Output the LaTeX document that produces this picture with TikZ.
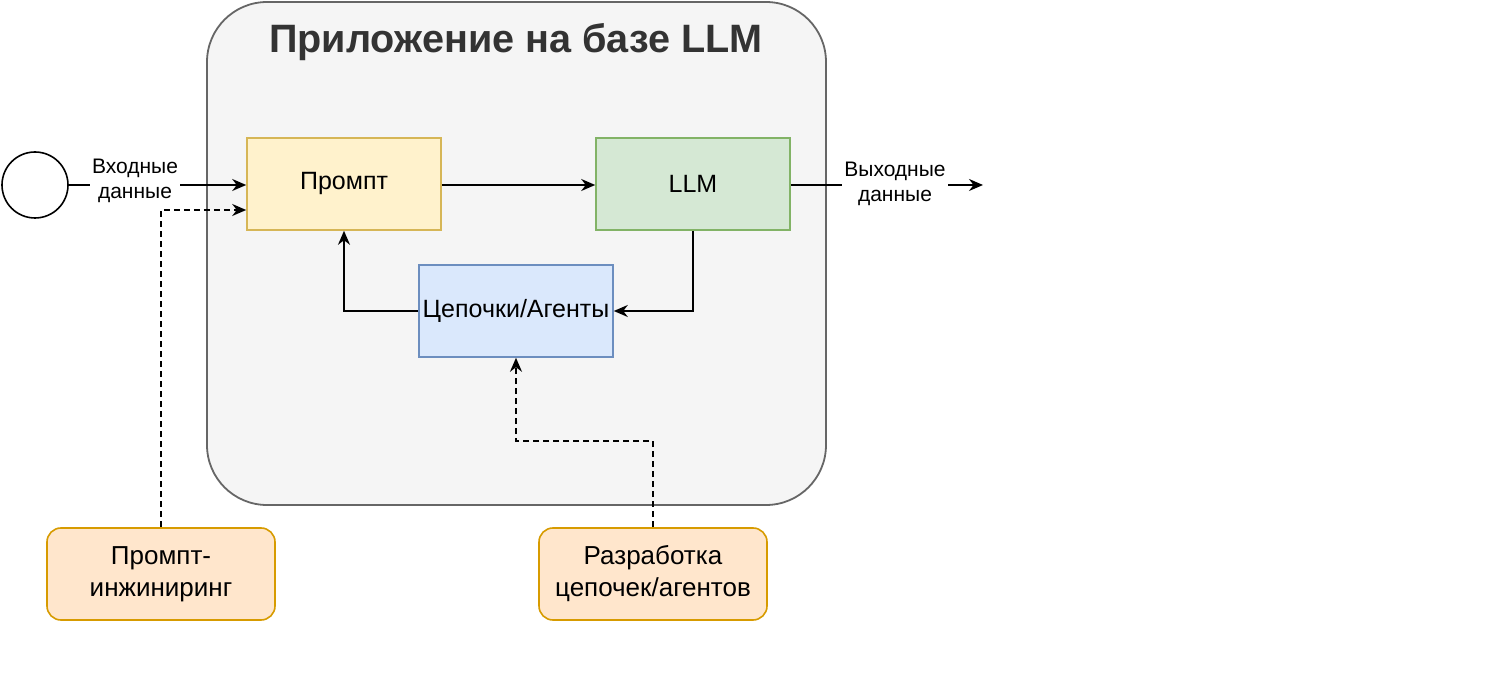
\documentclass[tikz,border=0pt]{standalone}
\usepackage{fontspec}
\setmainfont{Liberation Sans}
\usetikzlibrary{arrows.meta}
\definecolor{bg}{HTML}{F5F5F5}
\definecolor{yf}{HTML}{FFF2CC}\definecolor{yd}{HTML}{D6B656}
\definecolor{gf}{HTML}{D5E8D4}\definecolor{gd}{HTML}{82B366}
\definecolor{bf}{HTML}{DAE8FC}\definecolor{bd}{HTML}{6C8EBF}
\definecolor{of}{HTML}{FFE6CC}\definecolor{od}{HTML}{D79B00}
\tikzset{
 x=0.5pt,y=-0.5pt,
 box/.style={draw=#1,line width=0.8pt,minimum width=97pt,minimum height=46pt,inner sep=0pt,font=\fontsize{12.5}{15}\selectfont,align=center},
 ext/.style={draw=od,line width=0.8pt,rounded corners=7pt,fill=of,minimum width=114pt,minimum height=46pt,inner sep=0pt,font=\fontsize{13}{16}\selectfont,align=center},
 lab/.style={font=\fontsize{10.5}{12.5}\selectfont,align=center,fill=white,inner sep=1pt},
 arr/.style={-{Stealth[length=7pt,width=6pt]},line width=0.8pt},
 dsh/.style={arr,dashed,dash pattern=on 3pt off 2pt}
}
\begin{document}
\begin{tikzpicture}
\useasboundingbox (0,0) rectangle (1504,688);
\draw[fill=bg,draw=black!60,line width=0.9pt,rounded corners=30pt] (207,2) rectangle (826,505);
\node[font=\bfseries\fontsize{19.8}{22}\selectfont,text=black!80] at (516,42) {Приложение на базе LLM};
\node[draw,circle,minimum size=33pt,line width=0.8pt,inner sep=0pt] (c) at (35,185) {};
\node[box=yd,fill=yf] (p) at (344,184) {Промпт};
\node[box=gd,fill=gf] (l) at (693,184) {LLM};
\node[box=bd,fill=bf] (a) at (516,311) {Цепочки/Агенты};
\node[ext] (pe) at (161,574) {Промпт-\\инжиниринг};
\node[ext] (ra) at (653,574) {Разработка\\цепочек/агентов};
\coordinate (o) at (983,185);
\draw[arr] (c) -- (p.west |- 0,185);
\node[lab] at (135,181) {Входные\\данные};
\draw[arr] (p.east |- 0,185) -- (l.west |- 0,185);
\draw[arr] (l.east |- 0,185) -- (o);
\node[lab] at (895,184) {Выходные\\данные};
\draw[arr] (l.south) |- (a.east);
\draw[arr] (a.west) -| (p.south);
\draw[dsh] (pe.north) |- (p.west |- 0,210);
\draw[dsh] (ra.north) |- (516,441) -- (a.south);
\end{tikzpicture}
\end{document}
